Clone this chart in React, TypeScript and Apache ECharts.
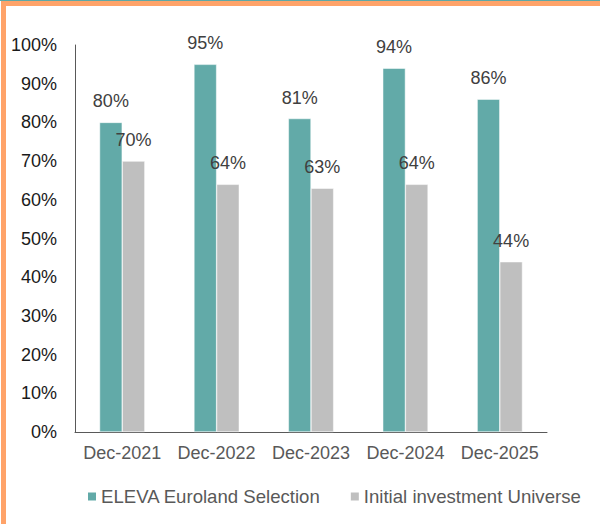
import React, { useEffect, useRef } from "react";
import * as echarts from "echarts";

const categories = ["Dec-2021", "Dec-2022", "Dec-2023", "Dec-2024", "Dec-2025"];
const elevaValues = [80, 95, 81, 94, 86];
const universeValues = [70, 64, 63, 64, 44];
const seriesNames = ["ELEVA Euroland Selection", "Initial investment Universe"];

const FONT = "Liberation Sans, Arial, sans-serif";

export default function App() {
  const ref = useRef<HTMLDivElement>(null);
  useEffect(() => {
    if (!ref.current) return;
    const chart = echarts.init(ref.current, undefined, { renderer: "svg" });
    const label = {
      show: true,
      position: "top",
      distance: 12,
      formatter: "{c}%",
      fontSize: 18,
      color: "#404040",
      fontFamily: FONT,
    };
    chart.setOption({
      animation: false,
      backgroundColor: "#ffffff",
      textStyle: { fontFamily: FONT },
      graphic: [
        { type: "rect", shape: { x: 0, y: 0, width: 600, height: 1 }, style: { fill: "#5fa8a6" } },
        { type: "rect", shape: { x: 1, y: 1, width: 599, height: 5 }, style: { fill: "#ffa369" } },
        { type: "rect", shape: { x: 1, y: 1, width: 5, height: 523 }, style: { fill: "#ffa369" } },
      ],
      grid: { left: 75, top: 45, right: 53, bottom: 92 },
      legend: {
        left: 86,
        top: 487,
        padding: 0,
        itemWidth: 10,
        itemHeight: 10,
        itemGap: 28,
        icon: "rect",
        textStyle: { fontSize: 18.6, color: "#595959", fontFamily: FONT, padding: [0, 0, 0, -1] },
        data: seriesNames,
      },
      xAxis: {
        type: "category",
        data: categories,
        axisLine: { show: true, lineStyle: { color: "#595959", width: 1 } },
        axisTick: { show: false },
        axisLabel: { interval: 0, hideOverlap: false, fontSize: 18, color: "#595959", margin: 12, fontFamily: FONT },
      },
      yAxis: {
        type: "value",
        min: 0,
        max: 100,
        interval: 10,
        axisLine: { show: true, lineStyle: { color: "#595959", width: 1 } },
        axisTick: { show: false },
        splitLine: { show: false },
        axisLabel: { fontSize: 18, color: "#1a1a1a", margin: 18, formatter: "{value}%", fontFamily: FONT },
      },
      series: [
        {
          name: seriesNames[0],
          type: "bar",
          data: elevaValues,
          barGap: "0%",
          barCategoryGap: "52%",
          itemStyle: { color: "#62aaa8", borderColor: "#ffffff", borderWidth: 0.5 },
          label,
        },
        {
          name: seriesNames[1],
          type: "bar",
          data: universeValues,
          barGap: "0%",
          barCategoryGap: "52%",
          itemStyle: { color: "#bfbfbf", borderColor: "#ffffff", borderWidth: 0.5 },
          label,
        },
      ],
    });
    return () => chart.dispose();
  }, []);
  return (
    <div
      ref={ref}
      style={{ position: "fixed", left: 0, top: 0, width: 600, height: 524 }}
    />
  );
}
